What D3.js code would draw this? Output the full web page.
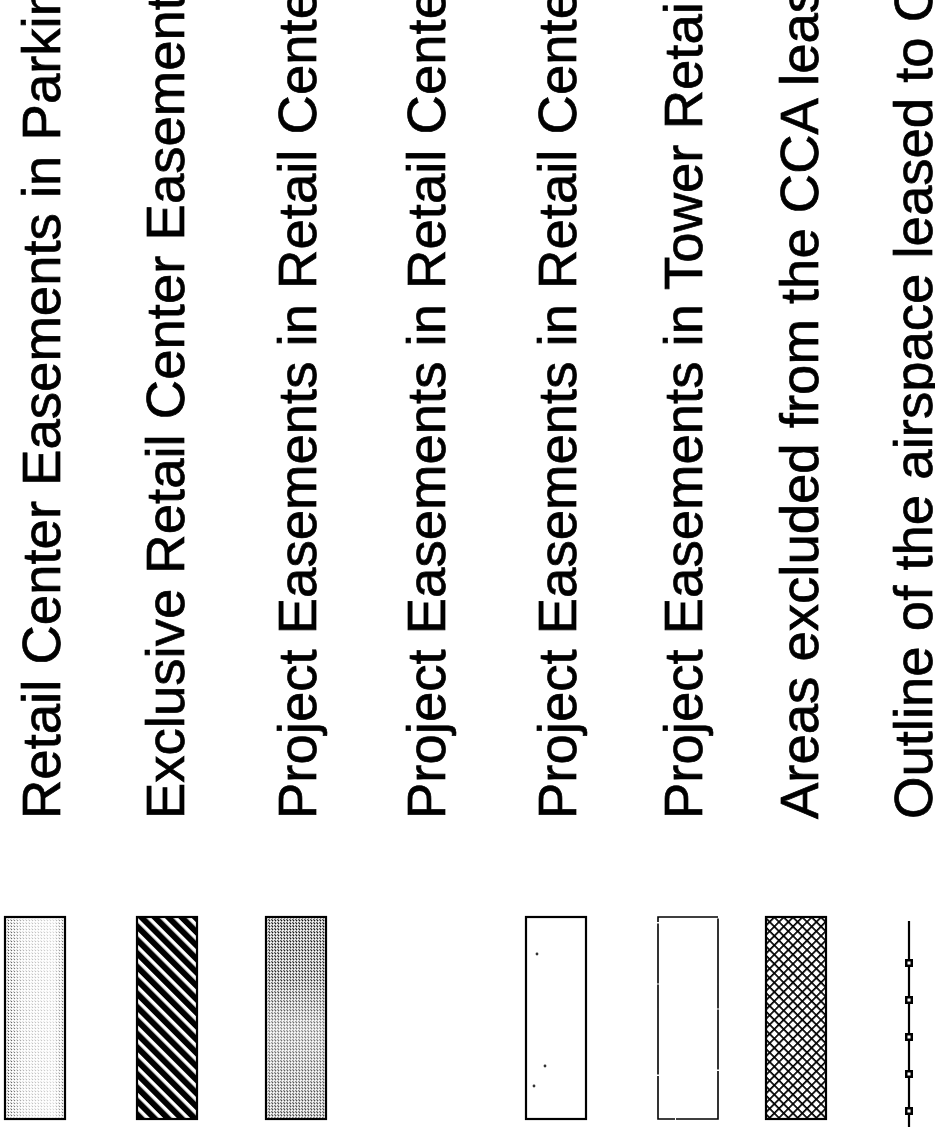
<!DOCTYPE html>
<html>
<head>
<meta charset="utf-8">
<script src="https://cdn.jsdelivr.net/npm/d3@7"></script>
<style>
  body { margin: 0; background: #fff; }
  svg { display: block; }
</style>
</head>
<body>
<svg id="legend"></svg>
<script>
// legend entries, left to right (text reads bottom to top)
var labels = [
    "Retail Center Easements in Parking Areas",
    "Exclusive Retail Center Easements",
    "Project Easements in Retail Center",
    "Project Easements in Retail Center",
    "Project Easements in Retail Center",
    "Project Easements in Tower Retail",
    "Areas excluded from the CCA lease",
    "Outline of the airspace leased to CCA"
];
var swatchKinds = ["stipple-light", "hatch", "stipple", "none", "specks", "dashed", "crosshatch", "line"];
var markerSteps = [0, 1, 2, 3, 4];   // square markers along the outline sample

var width = 935, height = 1129;
var keys = d3.range(labels.length);

var svg = d3.select('#legend')
    .attr('width', width)
    .attr('height', height);

svg.append("rect")
    .attr("width", "100%")
    .attr("height", "100%")
    .attr("fill", "white");

// columns are not evenly spaced in the original, so use ordinal ranges
var textX = d3.scaleOrdinal().domain(keys).range([60, 184, 316, 445, 576, 702, 818, 932]);
var swatchX = d3.scaleOrdinal().domain(keys).range([4, 136, 265, 395, 525, 657, 765, 909]);
var swatchY = d3.scaleLinear().domain([0, 1]).range([916, 1120]);
var markerY = d3.scaleLinear().domain([0, 4]).range([963, 1111]);
var swW = 62;

var defs = svg.append("defs");

// grey stipple made of small dots
function stipple(id, step, r, col) {
    var p = defs.append("pattern")
        .attr("id", id)
        .attr("patternUnits", "userSpaceOnUse")
        .attr("width", step).attr("height", step);
    p.append("rect").attr("width", step).attr("height", step).attr("fill", "white");
    p.append("circle").attr("cx", step / 2).attr("cy", step / 2).attr("r", r).attr("fill", col);
    p.append("circle").attr("cx", 0).attr("cy", 0).attr("r", r).attr("fill", col);
}
stipple("dots", 3, 0.9, "#111");
stipple("dotsLight", 3, 0.75, "#333");

var hatch = defs.append("pattern")
    .attr("id", "hatch")
    .attr("patternUnits", "userSpaceOnUse")
    .attr("width", 9.5).attr("height", 9.5)
    .attr("patternTransform", "rotate(-45)");
hatch.append("rect").attr("width", 9.5).attr("height", 9.5).attr("fill", "white");
hatch.append("rect").attr("width", 6).attr("height", 9.5).attr("fill", "black");

var cross = defs.append("pattern")
    .attr("id", "cross")
    .attr("patternUnits", "userSpaceOnUse")
    .attr("width", 6.6).attr("height", 6.6)
    .attr("patternTransform", "rotate(45)");
cross.append("rect").attr("width", 6.6).attr("height", 6.6).attr("fill", "white");
cross.append("rect").attr("width", 6.6).attr("height", 1.7).attr("fill", "black");
cross.append("rect").attr("width", 1.7).attr("height", 6.6).attr("fill", "black");

// fades so the stipple looks uneven like the scan
var fadeV = defs.append("linearGradient").attr("id", "fadeV")
    .attr("x1", 0).attr("y1", 0).attr("x2", 0).attr("y2", 1);
fadeV.append("stop").attr("offset", "0%").attr("stop-color", "white").attr("stop-opacity", 0);
fadeV.append("stop").attr("offset", "30%").attr("stop-color", "white").attr("stop-opacity", 0.1);
fadeV.append("stop").attr("offset", "55%").attr("stop-color", "white").attr("stop-opacity", 0.45);
fadeV.append("stop").attr("offset", "100%").attr("stop-color", "white").attr("stop-opacity", 0.2);

var fadeH = defs.append("linearGradient").attr("id", "fadeH")
    .attr("x1", 0).attr("y1", 0).attr("x2", 1).attr("y2", 0);
fadeH.append("stop").attr("offset", "0%").attr("stop-color", "white").attr("stop-opacity", 0);
fadeH.append("stop").attr("offset", "30%").attr("stop-color", "white").attr("stop-opacity", 0.65);
fadeH.append("stop").attr("offset", "80%").attr("stop-color", "white").attr("stop-opacity", 0.8);
fadeH.append("stop").attr("offset", "100%").attr("stop-color", "white").attr("stop-opacity", 0.2);

// labels
svg.append("g")
    .selectAll("text")
    .data(keys)
    .enter()
    .append("text")
        .attr("transform", function(d) {return "translate(" + textX(d) + ",819) rotate(-90)";})
        .attr("font-family", "Liberation Sans, Arial, sans-serif")
        .attr("font-size", 54.5)
        .attr("fill", "black")
        .attr("stroke", "black")
        .attr("stroke-width", 0.7)
        .text(function(d) {return labels[d];});

// swatches
var sw = svg.append("g")
    .selectAll("g")
    .data(keys.filter(d => swatchKinds[d] != "none" && swatchKinds[d] != "line"))
    .enter()
    .append("g")
        .attr("transform", function(d) {return "translate(" + swatchX(d) + "," + swatchY(0) + ")";});

var swH = swatchY(1) - swatchY(0);

sw.append("rect")
    .attr("width", swW)
    .attr("height", swH)
    .attr("fill", function(d) {
        var k = swatchKinds[d];
        if (k == "hatch") return "url(#hatch)";
        if (k == "crosshatch") return "url(#cross)";
        if (k == "stipple") return "url(#dots)";
        if (k == "stipple-light") return "url(#dotsLight)";
        return "white";
    });

sw.filter(d => swatchKinds[d] == "stipple")
    .append("rect")
    .attr("width", swW).attr("height", swH)
    .attr("fill", "url(#fadeV)");

sw.filter(d => swatchKinds[d] == "stipple-light")
    .append("rect")
    .attr("width", swW).attr("height", swH)
    .attr("fill", "url(#fadeH)");

sw.append("rect")
    .attr("x", 1).attr("y", 1)
    .attr("width", swW - 2)
    .attr("height", swH - 2)
    .attr("fill", "none")
    .attr("stroke", "black")
    .attr("stroke-width", function(d) {return swatchKinds[d] == "dashed" ? 1.6 : 2.2;})
    .attr("stroke-dasharray", function(d) {return swatchKinds[d] == "dashed" ? "60,1.5,90,1" : null;});

// stray specks in the mostly empty box
sw.filter(d => swatchKinds[d] == "specks")
    .selectAll("circle")
    .data([[12, 38], [9, 170], [20, 150]])
    .enter()
    .append("circle")
        .attr("cx", p => p[0]).attr("cy", p => p[1])
        .attr("r", 1.4).attr("fill", "#333");

// outline sample: vertical line with small square markers
var lineKey = swatchKinds.indexOf("line");
var lg = svg.append("g");
lg.append("line")
    .attr("x1", swatchX(lineKey)).attr("x2", swatchX(lineKey))
    .attr("y1", 921).attr("y2", 1127)
    .attr("stroke", "black")
    .attr("stroke-width", 2.2);
lg.selectAll("rect.m")
    .data(markerSteps)
    .enter()
    .append("rect")
        .attr("class", "m")
        .attr("x", swatchX(lineKey) - 4)
        .attr("y", d => markerY(d) - 4)
        .attr("width", 8).attr("height", 8)
        .attr("fill", "black");
lg.selectAll("rect.h")
    .data(markerSteps)
    .enter()
    .append("rect")
        .attr("class", "h")
        .attr("x", swatchX(lineKey) - 1.5)
        .attr("y", d => markerY(d) - 1.5)
        .attr("width", 3).attr("height", 3)
        .attr("fill", "white");
</script>
</body>
</html>
